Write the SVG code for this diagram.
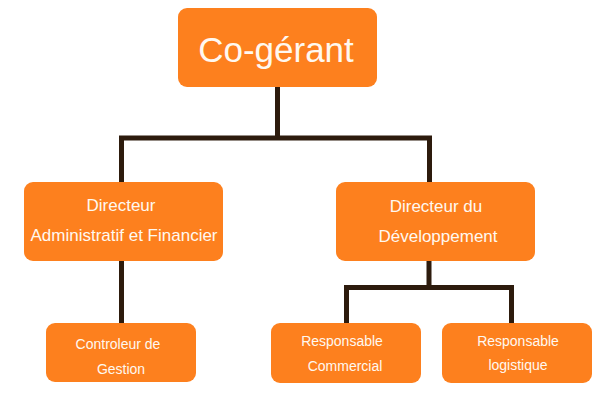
<svg xmlns="http://www.w3.org/2000/svg" width="600" height="400" viewBox="0 0 600 400">
<style>
.box{fill:#FD801E}
.t{fill:#FFF8F0;font-family:"Liberation Sans",Arial,sans-serif;text-anchor:middle}
.conn{fill:none;stroke:#2D1B0D;stroke-width:5;stroke-linejoin:miter;stroke-linecap:butt}
</style>
<rect width="600" height="400" fill="#FFFFFF"/>
<g id="connectors" class="conn">
<path d="M277.5 87 V138 M121.5 138 H429.5 M121.5 135.5 V182 M429.5 135.5 V182"/>
<path d="M121.5 261 V323"/>
<path d="M429 261 V287.5 M346.5 287.5 H511.5 M346.5 285 V323 M511.5 285 V323"/>
</g>
<g id="cogerant">
<rect class="box" x="178" y="8" width="199" height="79" rx="9"/>
<text class="t" x="276" y="62" font-size="35">Co-gérant</text>
</g>
<g id="daf">
<rect class="box" x="24" y="182" width="199" height="79" rx="9"/>
<text class="t" x="121" y="211" font-size="17">Directeur</text>
<text class="t" x="124" y="241" font-size="17">Administratif et Financier</text>
</g>
<g id="dd">
<rect class="box" x="336" y="182" width="199" height="79" rx="9"/>
<text class="t" x="436" y="212" font-size="17">Directeur du</text>
<text class="t" x="438" y="242" font-size="17">Développement</text>
</g>
<g id="cg">
<rect class="box" x="46" y="323" width="150" height="59" rx="9"/>
<text class="t" x="118" y="349" font-size="14">Controleur de</text>
<text class="t" x="121" y="374" font-size="14">Gestion</text>
</g>
<g id="rc">
<rect class="box" x="271" y="323" width="150" height="60" rx="9"/>
<text class="t" x="342" y="346" font-size="14">Responsable</text>
<text class="t" x="345" y="371" font-size="14">Commercial</text>
</g>
<g id="rl">
<rect class="box" x="442" y="323" width="150" height="60" rx="9"/>
<text class="t" x="518" y="346" font-size="14">Responsable</text>
<text class="t" x="518" y="370" font-size="14">logistique</text>
</g>
</svg>
